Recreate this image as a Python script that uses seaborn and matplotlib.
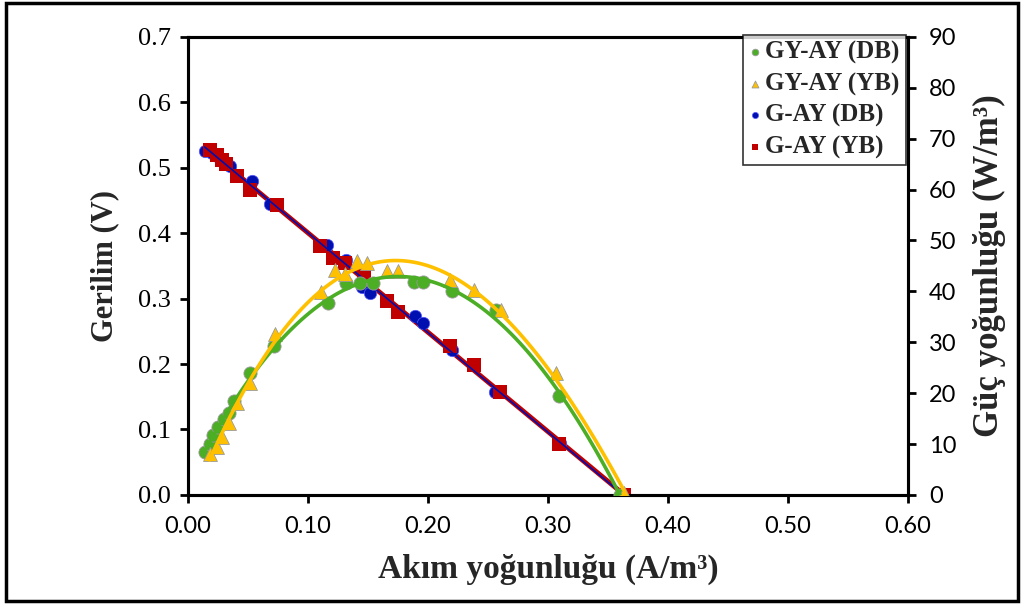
import numpy as np
import pandas as pd
import matplotlib.pyplot as plt
import seaborn as sns
from matplotlib.patches import Rectangle

# voltage data (left axis)
gay_db_i = [0.014, 0.020, 0.027, 0.035, 0.053, 0.068, 0.116, 0.132, 0.145, 0.152,
            0.189, 0.196, 0.220, 0.256, 0.310, 0.362]
gay_db_v = [0.525, 0.522, 0.513, 0.502, 0.479, 0.445, 0.382, 0.359, 0.318, 0.308,
            0.274, 0.263, 0.222, 0.158, 0.079, 0.0]

g_ay_yb_i = [0.018, 0.024, 0.028, 0.032, 0.041, 0.052, 0.074, 0.110, 0.121, 0.131,
             0.147, 0.166, 0.175, 0.218, 0.238, 0.260, 0.309, 0.363]
g_ay_yb_v = [0.527, 0.520, 0.512, 0.505, 0.487, 0.466, 0.443, 0.380, 0.362, 0.354,
             0.339, 0.296, 0.280, 0.228, 0.199, 0.158, 0.078, 0.0]

# power density data (right axis)
gy_db_i = [0.014, 0.018, 0.021, 0.025, 0.030, 0.034, 0.038, 0.052, 0.072, 0.117,
           0.132, 0.143, 0.154, 0.188, 0.196, 0.220, 0.257, 0.309, 0.360]
gy_db_p = [8.5, 10.0, 11.8, 13.4, 15.0, 16.1, 18.5, 23.9, 29.3, 37.7,
           41.7, 41.7, 41.7, 41.9, 41.8, 40.0, 36.4, 19.5, 0.0]

gy_yb_i = [0.018, 0.024, 0.028, 0.034, 0.041, 0.052, 0.0725, 0.111, 0.1225, 0.131,
           0.1406, 0.149, 0.1656, 0.175, 0.218, 0.238, 0.261, 0.307, 0.363]
gy_yb_p = [8.0, 9.5, 11.3, 14.2, 18.0, 21.9, 31.6, 39.8, 44.2, 43.5,
           46.0, 45.5, 44.0, 44.0, 42.2, 40.3, 36.4, 23.9, 0.3]

x_ticks = [0.0, 0.1, 0.2, 0.3, 0.4, 0.5, 0.6]
v_ticks = [0.0, 0.1, 0.2, 0.3, 0.4, 0.5, 0.6, 0.7]
p_ticks = [0, 10, 20, 30, 40, 50, 60, 70, 80, 90]

green = "#4BAE24"
gold = "#FFC000"
blue = "#0010B0"
red = "#C00000"

sns.set_style("ticks")
plt.rcParams["font.family"] = ["Liberation Serif", "DejaVu Serif"]

fig = plt.figure(figsize=(10.24, 6.05), dpi=100)
ax = fig.add_axes([0.1836, 0.182, 0.7031, 0.757])
ax2 = ax.twinx()

volt = pd.DataFrame({"I": gay_db_i, "V": gay_db_v})
volt2 = pd.DataFrame({"I": g_ay_yb_i, "V": g_ay_yb_v})
pow1 = pd.DataFrame({"I": gy_db_i, "P": gy_db_p})
pow2 = pd.DataFrame({"I": gy_yb_i, "P": gy_yb_p})

sns.regplot(volt, x="I", y="V", ax=ax, ci=None, order=1, label="G-AY (DB)",
            scatter_kws=dict(s=80, color=blue, edgecolor="#5a5aff", linewidths=0.5,
                             alpha=1, zorder=3),
            line_kws=dict(color=blue, lw=1.2, zorder=4))
sns.regplot(volt2, x="I", y="V", ax=ax, ci=None, order=1, label="G-AY (YB)",
            marker="s",
            scatter_kws=dict(s=95, color=red, edgecolor=red, linewidths=0, alpha=1, zorder=3),
            line_kws=dict(color=red, lw=3.5, zorder=5))
ax.lines[-1].set_zorder(2)

sns.regplot(pow1, x="I", y="P", ax=ax2, ci=None, order=3, label="GY-AY (DB)",
            scatter_kws=dict(s=90, color=green, edgecolor="#9a9a9a", linewidths=0.6,
                             alpha=1, zorder=3),
            line_kws=dict(color=green, lw=2.6, zorder=4))
sns.regplot(pow2, x="I", y="P", ax=ax2, ci=None, order=3, label="GY-AY (YB)",
            marker="^",
            scatter_kws=dict(s=100, color=gold, edgecolor="#9a9a9a", linewidths=0.6,
                             alpha=1, zorder=3),
            line_kws=dict(color=gold, lw=2.6, zorder=4))

ax.set_xlim(0, 0.6)
ax.set_ylim(0, 0.7)
ax2.set_ylim(0, 90)
ax.set_xticks(x_ticks)
ax.set_xticklabels([f"{t:.2f}" for t in x_ticks], family=["Lato", "DejaVu Sans"])
ax.set_yticks(v_ticks)
ax.set_yticklabels([f"{t:.1f}" for t in v_ticks])
ax2.set_yticks(p_ticks)
ax2.set_yticklabels([str(t) for t in p_ticks], family=["Lato", "DejaVu Sans"])

for a in (ax, ax2):
    for sp in a.spines.values():
        sp.set_visible(True)
        sp.set_linewidth(2.2)
        sp.set_color("black")
    a.tick_params(width=2, length=6, direction="out", colors="black", pad=6)
ax.tick_params(axis="y", labelsize=19)
ax.tick_params(axis="x", labelsize=17, pad=9)
ax2.tick_params(axis="y", labelsize=17, pad=9)

ax.set_xlabel("Akım yoğunluğu (A/m³)", fontsize=24, fontweight="bold", labelpad=12)
ax.set_ylabel("Gerilim (V)", fontsize=22, fontweight="bold", labelpad=14)
ax2.set_ylabel("Güç yoğunluğu (W/m³)", fontsize=25, fontweight="bold", labelpad=12)

h1, l1 = ax.get_legend_handles_labels()
h2, l2 = ax2.get_legend_handles_labels()
handles = h2[:2] + h1[:2]
labels = l2[:2] + l1[:2]
leg = ax2.legend(handles, labels, loc="upper right", bbox_to_anchor=(0.997, 1.005),
                 prop=dict(family="Liberation Serif", weight="bold", size=18),
                 markerscale=0.5, handlelength=0.5, handletextpad=0.15,
                 labelspacing=0.32, borderpad=0.25, borderaxespad=0,
                 frameon=True, fancybox=False, edgecolor="black")
leg.get_frame().set_linewidth(1.2)

fig.patches.append(Rectangle((0.006, 0.006), 0.988, 0.989, transform=fig.transFigure,
                             fill=False, edgecolor="black", linewidth=2.5))

fig.savefig("out.png", dpi=100)
